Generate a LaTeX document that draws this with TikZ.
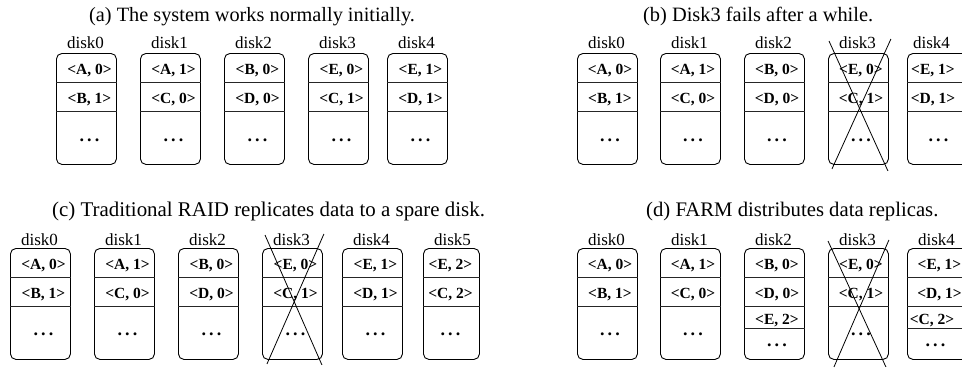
\documentclass[tikz,border=0pt]{standalone}
\usepackage{fontspec}
\setmainfont{Liberation Serif}
\usetikzlibrary{calc}

\tikzset{
  diskbox/.style={draw, line width=0.9pt, rounded corners=5.5pt, minimum width=60pt,
    minimum height=111pt, inner sep=0pt, anchor=north west},
  rowsep/.style={line width=0.8pt, draw=black!85},
  celltext/.style={font=\fontsize{15.5}{15.5}\selectfont\bfseries, inner sep=0pt, anchor=base},
  disklabel/.style={font=\fontsize{17}{17}\selectfont, inner sep=0pt, anchor=base},
  captext/.style={font=\fontsize{#1}{#1}\selectfont, inner sep=0pt, anchor=base west},
  captext/.default=20.6,
  failline/.style={line width=0.8pt},
}

% widely spaced bold dots for the unused part of a disk
\newcommand\moredots{{\fontsize{18}{18}\selectfont.\kern3.2pt.\kern3.2pt.}}
% \DiskBox{name}{x left}{y top}{label}{gap above box to label baseline}
\newcommand\DiskBox[5]{%
  \node[diskbox] (#1) at (#2,#3) {};
  \node[disklabel] (#1-name) at ($(#1.north)+(-1,-#5)$) {#4};
}
% \Cell{name}{disk}{dx}{dy from top}{text}
\newcommand\Cell[5]{\node[celltext] (#1) at ($(#2.north)+(#3,#4)$) {#5};}
% \Sep{disk}{dy from top}
\newcommand\Sep[2]{\draw[rowsep] ($(#1.north west)+(0,#2)$) -- ($(#1.north east)+(0,#2)$);}
% \TwoRows{disk}{dx}{row 1}{row 2}{dots dy}
\newcommand\TwoRows[5]{%
  \Sep{#1}{29.5}\Sep{#1}{58.5}%
  \Cell{#1-r1}{#1}{#2}{21}{#3}%
  \Cell{#1-r2}{#1}{#2}{50}{#4}%
  \Cell{#1-dots}{#1}{#2}{#5}{\moredots}%
}

\begin{document}
\begin{tikzpicture}[x=1pt, y=-1pt]
\useasboundingbox (0,0) rectangle (962,368);

% ---------- (a) ----------
\node[captext=20.3] (capa) at (89,21) {(a) The system works normally initially.};
\DiskBox{a0}{56}{53}{disk0}{5}  \TwoRows{a0}{3}{<A, 0>}{<B, 1>}{88}
\DiskBox{a1}{140}{53}{disk1}{5} \TwoRows{a1}{3}{<A, 1>}{<C, 0>}{88}
\DiskBox{a2}{224}{53}{disk2}{5} \TwoRows{a2}{3}{<B, 0>}{<D, 0>}{88}
\DiskBox{a3}{308}{53}{disk3}{5} \TwoRows{a3}{3}{<E, 0>}{<C, 1>}{88}
\DiskBox{a4}{387}{53}{disk4}{5} \TwoRows{a4}{3}{<E, 1>}{<D, 1>}{88}

% ---------- (b) ----------
\node[captext=20.4] (capb) at (643,21) {(b) Disk3 fails after a while.};
\DiskBox{b0}{577}{53}{disk0}{5} \TwoRows{b0}{2.5}{<A, 0>}{<B, 1>}{88}
\DiskBox{b1}{660}{53}{disk1}{5} \TwoRows{b1}{2.5}{<A, 1>}{<C, 0>}{88}
\DiskBox{b2}{744}{53}{disk2}{5} \TwoRows{b2}{2.5}{<B, 0>}{<D, 0>}{88}
\DiskBox{b3}{828}{53}{disk3}{5} \TwoRows{b3}{2.5}{<E, 0>}{<C, 1>}{88}
\node[diskbox] (b4) at (907,53) {};
\node[disklabel] (b4-name) at ($(b4.north)+(-6,-5)$) {disk4};
\Sep{b4}{29.5}\Sep{b4}{58.5}
\Cell{b4-r1}{b4}{-4.5}{21}{<E, 1>}
\Cell{b4-r2}{b4}{-4.5}{50}{<D, 1>}
\Cell{b4-dots}{b4}{1}{88}{\moredots}
\draw[failline] ($(b3.north west)+(1,-12)$) -- ($(b3.south east)+(-1,6)$);
\draw[failline] ($(b3.north east)+(2,-14)$) -- ($(b3.south west)+(4,4)$);

% ---------- (c) ----------
\node[captext=20.9] (capc) at (52,216) {(c) Traditional RAID replicates data to a spare disk.};
\DiskBox{c0}{10}{248}{disk0}{3}  \TwoRows{c0}{3}{<A, 0>}{<B, 1>}{87}
\DiskBox{c1}{94}{248}{disk1}{3}  \TwoRows{c1}{3}{<A, 1>}{<C, 0>}{87}
\DiskBox{c2}{178}{248}{disk2}{3} \TwoRows{c2}{3}{<B, 0>}{<D, 0>}{87}
\DiskBox{c3}{262}{248}{disk3}{3} \TwoRows{c3}{3}{<E, 0>}{<C, 1>}{87}
\DiskBox{c4}{342}{248}{disk4}{3} \TwoRows{c4}{3}{<E, 1>}{<D, 1>}{87}
\node[diskbox, minimum width=56pt] (c5) at (423,248) {};
\node[disklabel] (c5-name) at ($(c5.north)+(1,-3)$) {disk5};
\TwoRows{c5}{-1}{<E, 2>}{<C, 2>}{87}
\draw[failline] ($(c3.north west)+(3,-13)$) -- ($(c3.south east)+(-1,5)$);
\draw[failline] ($(c3.north east)+(1,-14)$) -- ($(c3.south west)+(5,4)$);

% ---------- (d) ----------
\node[captext=20.7] (capd) at (646,216) {(d) FARM distributes data replicas.};
\DiskBox{d0}{577}{248}{disk0}{3} \TwoRows{d0}{2.5}{<A, 0>}{<B, 1>}{87}
\DiskBox{d1}{660}{248}{disk1}{3} \TwoRows{d1}{2.5}{<A, 1>}{<C, 0>}{87}
\DiskBox{d2}{744}{248}{disk2}{3}
\Sep{d2}{29.5}\Sep{d2}{58.5}\Sep{d2}{80.5}
\Cell{d2-r1}{d2}{2.5}{21}{<B, 0>}
\Cell{d2-r2}{d2}{2.5}{50}{<D, 0>}
\Cell{d2-r3}{d2}{2.5}{76.5}{<E, 2>}
\Cell{d2-dots}{d2}{2.5}{98.5}{\moredots}
\DiskBox{d3}{828}{248}{disk3}{3} \TwoRows{d3}{2.5}{<E, 0>}{<C, 1>}{87}
\DiskBox{d4}{907}{248}{disk4}{3}
\Sep{d4}{29.5}\Sep{d4}{58.5}\Sep{d4}{80.5}
\Cell{d4-r1}{d4}{2}{21}{<E, 1>}
\Cell{d4-r2}{d4}{2}{50}{<D, 1>}
\Cell{d4-r3}{d4}{-5.5}{76.5}{<C, 2>}
\Cell{d4-dots}{d4}{-2}{98.5}{\moredots}
\draw[failline] ($(d3.north west)+(0,-7)$) -- ($(d3.south east)+(-3,7)$);
\draw[failline] ($(d3.north east)+(0,-8)$) -- ($(d3.south west)+(6,7)$);
\end{tikzpicture}
\end{document}
